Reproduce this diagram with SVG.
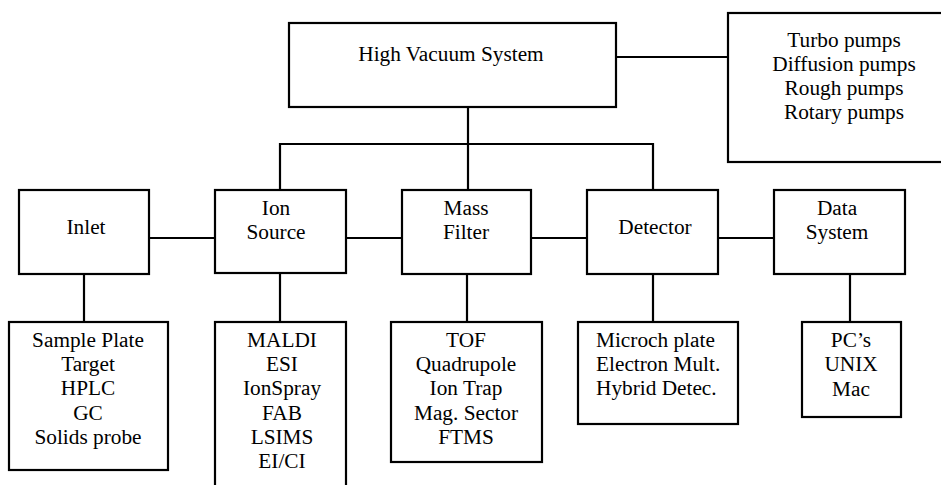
<svg xmlns="http://www.w3.org/2000/svg" width="941" height="485" viewBox="0 0 941 485">
  <style>
    .box { fill: #ffffff; stroke: #000000; stroke-width: 2.2; }
    .wire { fill: none; stroke: #000000; stroke-width: 2.2; }
    .left { text-anchor: start; }
  </style>
  <rect x="0" y="0" width="941" height="485" fill="#ffffff"/>

  <!-- connectors -->
  <g id="connectors">
    <line class="wire" x1="616" y1="57" x2="728" y2="57"/>
    <line class="wire" x1="468" y1="107" x2="468" y2="190"/>
    <polyline class="wire" points="280,190 280,144 653,144 653,190"/>
    <line class="wire" x1="149" y1="238" x2="215" y2="238"/>
    <line class="wire" x1="346" y1="238" x2="402" y2="238"/>
    <line class="wire" x1="531" y1="238" x2="587" y2="238"/>
    <line class="wire" x1="718" y1="238" x2="774" y2="238"/>
    <line class="wire" x1="84" y1="274" x2="84" y2="322"/>
    <line class="wire" x1="280" y1="273" x2="280" y2="322"/>
    <line class="wire" x1="467" y1="274" x2="467" y2="322"/>
    <line class="wire" x1="653" y1="274" x2="653" y2="322"/>
    <line class="wire" x1="850" y1="274" x2="850" y2="322"/>
  </g>

  <g font-family="'Liberation Serif', 'DejaVu Serif', serif" font-size="21.3" fill="#000000" text-anchor="middle">
    <!-- top: vacuum system and pumps -->
    <g id="high-vacuum">
      <rect class="box" x="289" y="23" width="327" height="84"/>
      <text x="451" y="61">High Vacuum System</text>
    </g>
    <g id="pumps">
      <rect class="box" x="728" y="13" width="240" height="149"/>
      <text x="844" y="47">Turbo pumps</text>
      <text x="844" y="71">Diffusion pumps</text>
      <text x="844" y="95">Rough pumps</text>
      <text x="844" y="119">Rotary pumps</text>
    </g>

    <!-- main chain -->
    <g id="inlet">
      <rect class="box" x="19" y="190" width="130" height="84"/>
      <text x="86" y="234">Inlet</text>
    </g>
    <g id="ion-source">
      <rect class="box" x="215" y="190" width="131" height="83"/>
      <text x="276" y="215">Ion</text>
      <text x="276" y="239">Source</text>
    </g>
    <g id="mass-filter">
      <rect class="box" x="402" y="190" width="129" height="84"/>
      <text x="466" y="215">Mass</text>
      <text x="466" y="239">Filter</text>
    </g>
    <g id="detector">
      <rect class="box" x="587" y="190" width="131" height="84"/>
      <text x="655" y="234">Detector</text>
    </g>
    <g id="data-system">
      <rect class="box" x="774" y="190" width="131" height="84"/>
      <text x="837" y="215">Data</text>
      <text x="837" y="239">System</text>
    </g>

    <!-- option lists -->
    <g id="inlet-options">
      <rect class="box" x="9" y="322" width="159" height="148"/>
      <text x="88" y="347">Sample Plate</text>
      <text x="88" y="371">Target</text>
      <text x="88" y="395">HPLC</text>
      <text x="88" y="420">GC</text>
      <text x="88" y="444">Solids probe</text>
    </g>
    <g id="source-options">
      <rect class="box" x="215" y="322" width="131" height="180"/>
      <text x="282" y="347">MALDI</text>
      <text x="282" y="371">ESI</text>
      <text x="282" y="395">IonSpray</text>
      <text x="282" y="420">FAB</text>
      <text x="282" y="444">LSIMS</text>
      <text x="282" y="468">EI/CI</text>
    </g>
    <g id="analyzer-options">
      <rect class="box" x="391" y="322" width="151" height="140"/>
      <text x="466" y="347">TOF</text>
      <text x="466" y="371">Quadrupole</text>
      <text x="466" y="395">Ion Trap</text>
      <text x="466" y="420">Mag. Sector</text>
      <text x="466" y="444">FTMS</text>
    </g>
    <g id="detector-options">
      <rect class="box" x="578" y="322" width="160" height="102"/>
      <text class="left" x="596" y="347">Microch plate</text>
      <text class="left" x="596" y="371">Electron Mult.</text>
      <text class="left" x="596" y="395">Hybrid Detec.</text>
    </g>
    <g id="data-options">
      <rect class="box" x="802" y="322" width="99" height="95"/>
      <text x="851" y="347">PC’s</text>
      <text x="851" y="371">UNIX</text>
      <text x="851" y="396">Mac</text>
    </g>
  </g>
</svg>
